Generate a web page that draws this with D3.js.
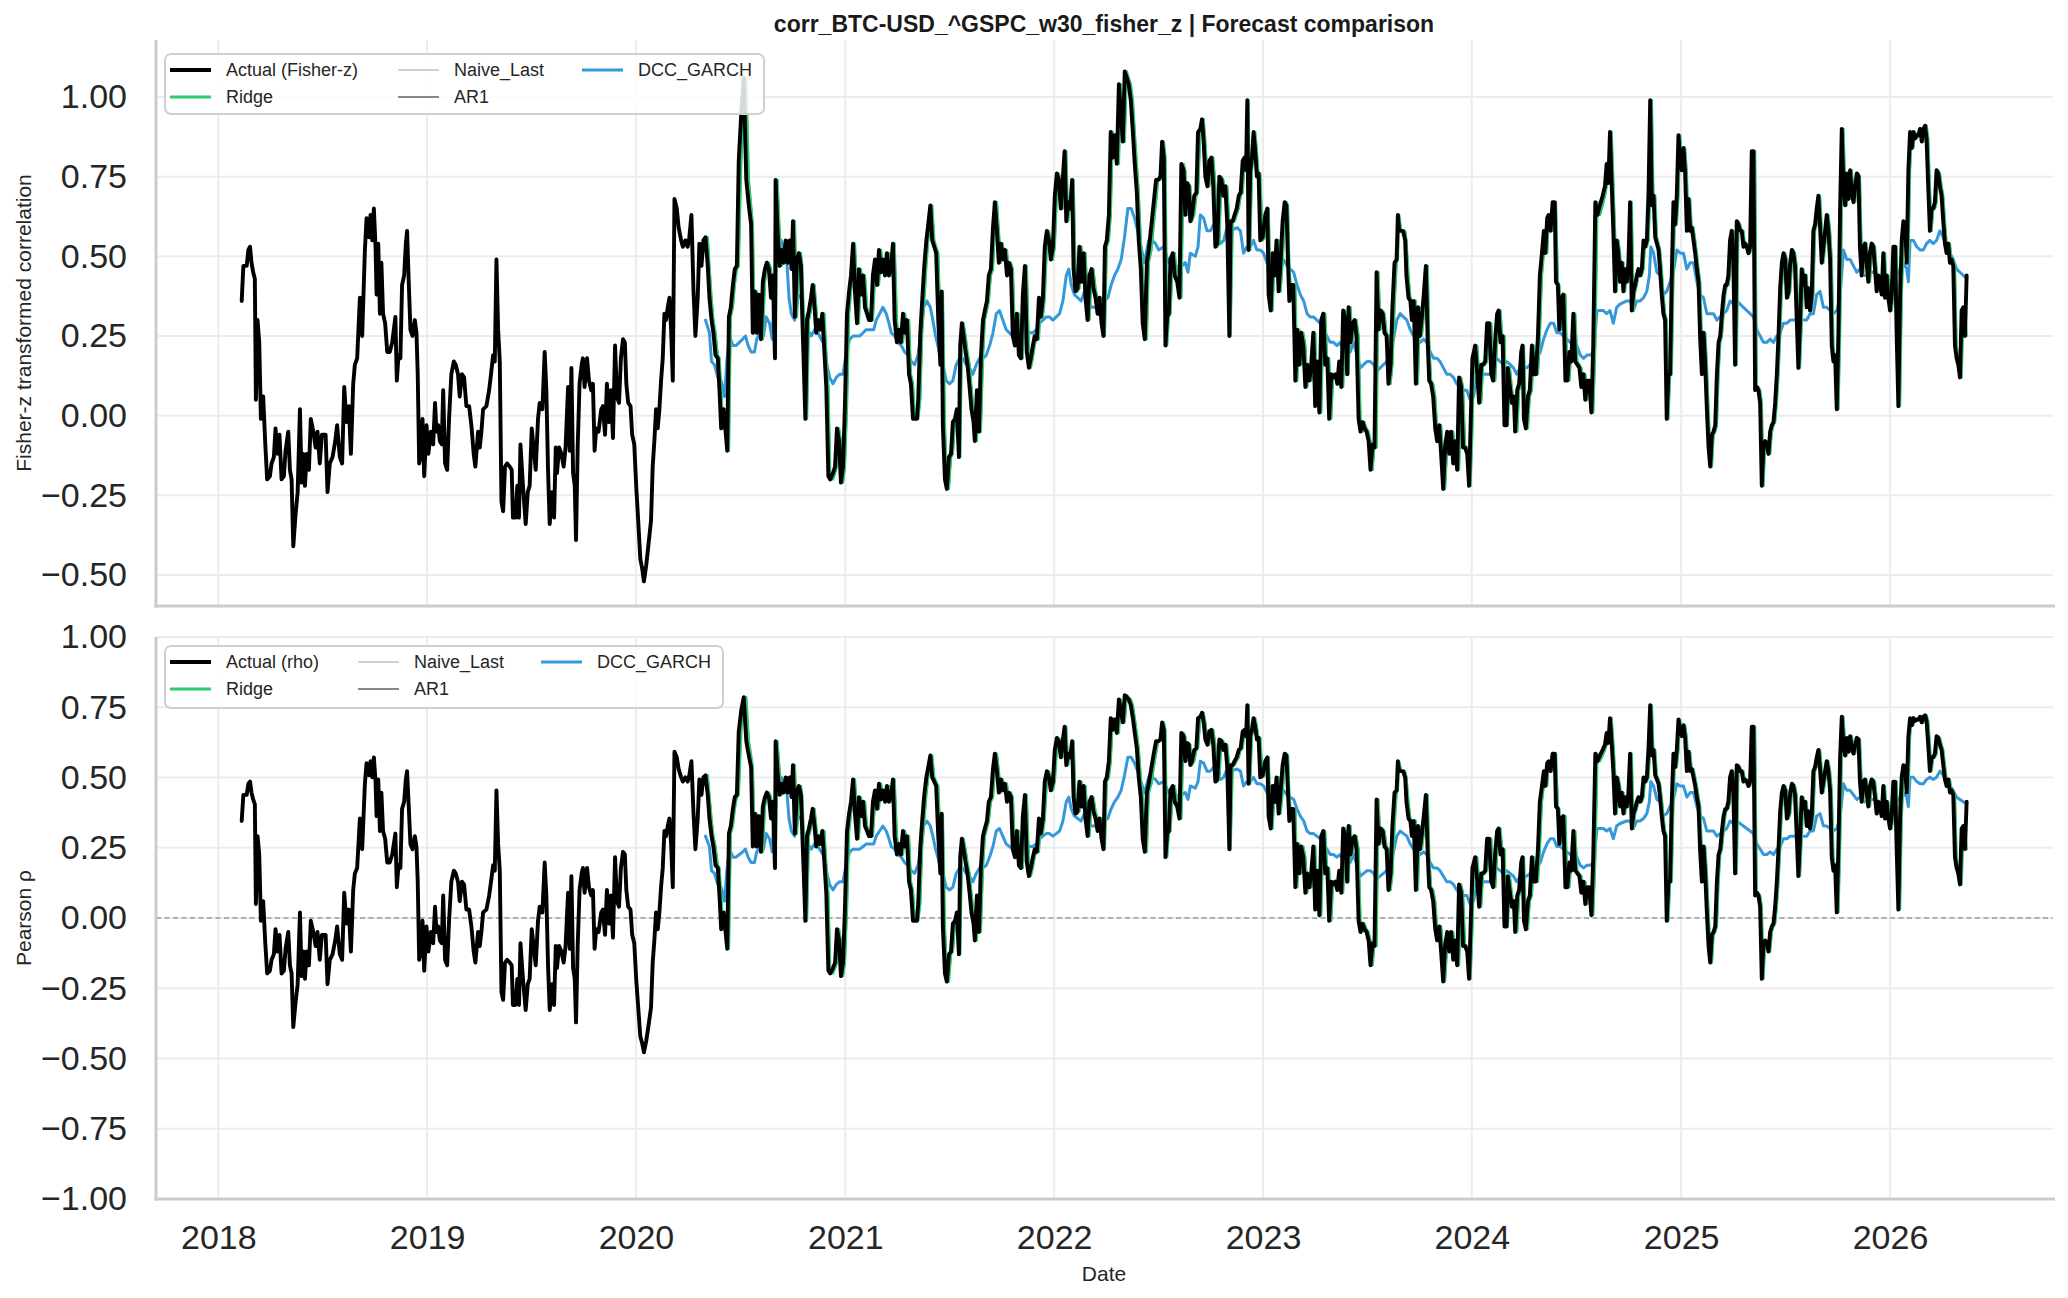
<!DOCTYPE html>
<html>
<head>
<meta charset="utf-8">
<script src="https://cdn.jsdelivr.net/npm/d3@7"></script>
<style>
  body { margin: 0; background: #fff; }
  svg { display: block; font-family: "Liberation Sans", Arial, sans-serif; }
</style>
</head>
<body>
<svg id="chart" width="2068" height="1298"></svg>
<script>
// ---- data ----
const yearTicks = [2018, 2019, 2020, 2021, 2022, 2023, 2024, 2025, 2026];
const zTicks = [-0.5, -0.25, 0, 0.25, 0.5, 0.75, 1.0];
const rhoTicks = [-1, -0.75, -0.5, -0.25, 0, 0.25, 0.5, 0.75, 1.0];
const forecastStart = 2020.33;   // first forecast date (decimal year)

// actual Fisher-z series: [decimal year, z]
const actualZ = [
[2018.112,0.36],[2018.120,0.47],[2018.136,0.47],[2018.144,0.52],[2018.152,0.53],[2018.159,0.48],[2018.167,0.45],[2018.175,0.43],[2018.180,0.05],[2018.188,0.30],[2018.196,0.23],[2018.204,-0.01],[2018.215,0.06],[2018.225,-0.09],[2018.234,-0.20],[2018.247,-0.19],[2018.255,-0.15],[2018.266,-0.13],[2018.274,-0.04],[2018.284,-0.12],[2018.293,-0.06],[2018.303,-0.20],[2018.314,-0.19],[2018.322,-0.11],[2018.335,-0.05],[2018.343,-0.17],[2018.351,-0.20],[2018.359,-0.41],[2018.370,-0.31],[2018.380,-0.24],[2018.391,0.02],[2018.399,-0.21],[2018.407,-0.12],[2018.415,-0.22],[2018.423,-0.12],[2018.434,-0.17],[2018.443,-0.01],[2018.455,-0.05],[2018.466,-0.10],[2018.475,-0.05],[2018.486,-0.15],[2018.496,-0.06],[2018.506,-0.06],[2018.514,-0.06],[2018.523,-0.24],[2018.534,-0.15],[2018.547,-0.13],[2018.560,-0.08],[2018.569,-0.03],[2018.582,-0.13],[2018.593,-0.15],[2018.603,0.09],[2018.614,-0.02],[2018.625,0.03],[2018.635,-0.12],[2018.646,0.10],[2018.654,0.16],[2018.665,0.18],[2018.678,0.37],[2018.689,0.25],[2018.702,0.52],[2018.710,0.62],[2018.721,0.56],[2018.729,0.63],[2018.737,0.55],[2018.745,0.65],[2018.753,0.53],[2018.758,0.38],[2018.766,0.54],[2018.774,0.32],[2018.781,0.48],[2018.789,0.32],[2018.799,0.29],[2018.809,0.20],[2018.821,0.20],[2018.833,0.23],[2018.848,0.31],[2018.855,0.11],[2018.863,0.19],[2018.872,0.18],[2018.880,0.41],[2018.890,0.44],[2018.898,0.54],[2018.904,0.58],[2018.912,0.42],[2018.920,0.27],[2018.930,0.25],[2018.941,0.30],[2018.949,0.26],[2018.955,0.13],[2018.962,-0.15],[2018.971,-0.12],[2018.978,-0.01],[2018.986,-0.19],[2018.997,-0.03],
[2019.006,-0.12],[2019.018,-0.05],[2019.029,-0.09],[2019.038,0.04],[2019.045,-0.05],[2019.053,-0.03],[2019.061,-0.08],[2019.070,-0.09],[2019.077,0.08],[2019.086,-0.15],[2019.096,-0.17],[2019.105,-0.01],[2019.116,0.13],[2019.128,0.17],[2019.137,0.16],[2019.148,0.13],[2019.156,0.06],[2019.167,0.13],[2019.177,0.12],[2019.188,0.03],[2019.201,0.03],[2019.212,-0.03],[2019.223,-0.12],[2019.231,-0.16],[2019.244,-0.05],[2019.252,-0.10],[2019.260,-0.05],[2019.268,0.02],[2019.284,0.03],[2019.297,0.08],[2019.306,0.13],[2019.316,0.19],[2019.324,0.17],[2019.332,0.49],[2019.340,0.27],[2019.348,0.17],[2019.356,-0.27],[2019.364,-0.30],[2019.373,-0.16],[2019.383,-0.15],[2019.396,-0.16],[2019.405,-0.17],[2019.411,-0.32],[2019.423,-0.32],[2019.432,-0.22],[2019.440,-0.32],[2019.447,-0.09],[2019.459,-0.22],[2019.472,-0.34],[2019.482,-0.24],[2019.491,-0.22],[2019.501,-0.04],[2019.510,-0.10],[2019.520,-0.17],[2019.531,-0.01],[2019.539,0.04],[2019.552,0.02],[2019.563,0.20],[2019.571,0.08],[2019.579,-0.17],[2019.587,-0.34],[2019.598,-0.24],[2019.608,-0.32],[2019.616,-0.10],[2019.622,-0.18],[2019.632,-0.10],[2019.643,-0.12],[2019.654,-0.16],[2019.663,-0.10],[2019.675,0.09],[2019.683,-0.11],[2019.691,0.15],[2019.699,-0.18],[2019.707,-0.22],[2019.713,-0.39],[2019.721,-0.10],[2019.730,0.10],[2019.740,0.16],[2019.746,0.18],[2019.754,0.09],[2019.766,0.18],[2019.775,0.11],[2019.786,0.08],[2019.794,0.10],[2019.802,-0.11],[2019.810,-0.04],[2019.821,-0.05],[2019.834,0.02],[2019.842,0.03],[2019.852,-0.06],[2019.861,0.10],[2019.871,-0.02],[2019.880,0.08],[2019.890,-0.07],[2019.900,0.22],[2019.909,0.06],[2019.919,0.04],[2019.928,0.18],[2019.938,0.24],[2019.947,0.23],[2019.954,0.10],[2019.963,0.04],[2019.974,0.03],[2019.982,-0.06],[2019.992,-0.09],
[2020.002,-0.23],[2020.010,-0.32],[2020.021,-0.45],[2020.030,-0.48],[2020.038,-0.52],[2020.049,-0.47],[2020.059,-0.41],[2020.072,-0.33],[2020.080,-0.16],[2020.088,-0.08],[2020.096,0.02],[2020.104,-0.04],[2020.112,0.02],[2020.120,0.11],[2020.128,0.18],[2020.136,0.32],[2020.144,0.30],[2020.152,0.34],[2020.160,0.37],[2020.168,0.27],[2020.176,0.11],[2020.184,0.68],[2020.195,0.65],[2020.204,0.59],[2020.216,0.55],[2020.224,0.53],[2020.236,0.55],[2020.247,0.53],[2020.255,0.56],[2020.265,0.63],[2020.275,0.39],[2020.284,0.25],[2020.295,0.37],[2020.303,0.54],[2020.313,0.47],[2020.322,0.55],[2020.332,0.56],[2020.343,0.47],[2020.351,0.37],[2020.361,0.30],[2020.370,0.26],[2020.380,0.19],[2020.391,0.18],[2020.399,0.08],[2020.407,-0.04],[2020.418,0.02],[2020.428,-0.05],[2020.436,-0.11],[2020.444,0.31],[2020.453,0.34],[2020.463,0.41],[2020.472,0.46],[2020.482,0.47],[2020.491,0.80],[2020.503,0.95],[2020.515,1.06],[2020.527,0.74],[2020.539,0.66],[2020.550,0.60],[2020.558,0.26],[2020.568,0.39],[2020.577,0.26],[2020.587,0.38],[2020.597,0.24],[2020.606,0.42],[2020.616,0.46],[2020.625,0.48],[2020.635,0.46],[2020.645,0.37],[2020.654,0.44],[2020.664,0.18],[2020.667,0.74],[2020.676,0.58],[2020.686,0.47],[2020.696,0.52],[2020.705,0.48],[2020.715,0.55],[2020.724,0.48],[2020.734,0.55],[2020.743,0.46],[2020.750,0.61],[2020.759,0.31],[2020.769,0.49],[2020.778,0.51],[2020.788,0.47],[2020.794,0.32],[2020.801,0.17],[2020.809,-0.01],[2020.817,0.30],[2020.826,0.33],[2020.836,0.37],[2020.844,0.41],[2020.853,0.34],[2020.861,0.26],[2020.871,0.30],[2020.880,0.27],[2020.890,0.32],[2020.900,0.20],[2020.909,0.09],[2020.919,-0.19],[2020.928,-0.20],[2020.941,-0.18],[2020.951,-0.16],[2020.960,-0.04],[2020.970,-0.08],[2020.979,-0.21],[2020.989,-0.16],[2020.998,0.03],
[2021.008,0.32],[2021.018,0.39],[2021.027,0.44],[2021.037,0.54],[2021.046,0.39],[2021.056,0.29],[2021.065,0.46],[2021.075,0.38],[2021.085,0.44],[2021.094,0.34],[2021.104,0.32],[2021.113,0.30],[2021.123,0.30],[2021.132,0.44],[2021.142,0.49],[2021.152,0.41],[2021.161,0.52],[2021.171,0.45],[2021.180,0.49],[2021.190,0.44],[2021.199,0.51],[2021.209,0.44],[2021.219,0.47],[2021.228,0.54],[2021.236,0.30],[2021.247,0.23],[2021.257,0.27],[2021.266,0.23],[2021.276,0.32],[2021.286,0.26],[2021.295,0.30],[2021.305,0.13],[2021.314,0.10],[2021.324,-0.01],[2021.333,-0.01],[2021.343,-0.01],[2021.349,0.05],[2021.359,0.26],[2021.368,0.36],[2021.378,0.47],[2021.388,0.55],[2021.397,0.60],[2021.407,0.66],[2021.416,0.55],[2021.426,0.53],[2021.435,0.51],[2021.445,0.30],[2021.455,0.16],[2021.461,0.39],[2021.467,-0.03],[2021.477,-0.20],[2021.486,-0.23],[2021.496,-0.13],[2021.506,-0.12],[2021.515,-0.02],[2021.525,-0.01],[2021.534,0.02],[2021.544,-0.13],[2021.550,0.22],[2021.558,0.29],[2021.566,0.25],[2021.576,0.20],[2021.585,0.16],[2021.595,0.09],[2021.604,0.02],[2021.614,-0.02],[2021.620,-0.08],[2021.630,0.08],[2021.640,-0.05],[2021.649,0.18],[2021.659,0.30],[2021.668,0.33],[2021.678,0.36],[2021.687,0.44],[2021.697,0.46],[2021.707,0.59],[2021.716,0.67],[2021.726,0.58],[2021.735,0.48],[2021.745,0.54],[2021.754,0.49],[2021.764,0.52],[2021.774,0.44],[2021.783,0.48],[2021.793,0.46],[2021.802,0.25],[2021.812,0.22],[2021.821,0.32],[2021.831,0.19],[2021.841,0.18],[2021.850,0.38],[2021.860,0.47],[2021.869,0.20],[2021.879,0.15],[2021.888,0.18],[2021.898,0.22],[2021.907,0.25],[2021.917,0.24],[2021.927,0.37],[2021.936,0.31],[2021.946,0.37],[2021.955,0.53],[2021.965,0.58],[2021.975,0.55],[2021.984,0.49],[2021.994,0.53],
[2022.003,0.69],[2022.013,0.76],[2022.022,0.74],[2022.032,0.65],[2022.042,0.75],[2022.050,0.83],[2022.058,0.61],[2022.067,0.67],[2022.077,0.65],[2022.086,0.74],[2022.093,0.46],[2022.102,0.39],[2022.112,0.40],[2022.121,0.53],[2022.131,0.42],[2022.141,0.51],[2022.150,0.37],[2022.160,0.30],[2022.169,0.44],[2022.179,0.46],[2022.188,0.40],[2022.198,0.37],[2022.208,0.32],[2022.217,0.37],[2022.227,0.29],[2022.236,0.25],[2022.243,0.53],[2022.252,0.55],[2022.262,0.63],[2022.271,0.89],[2022.281,0.81],[2022.290,0.88],[2022.300,0.79],[2022.310,1.04],[2022.319,0.95],[2022.329,0.86],[2022.338,1.08],[2022.348,1.06],[2022.357,1.04],[2022.367,0.99],[2022.377,0.89],[2022.386,0.79],[2022.396,0.70],[2022.405,0.55],[2022.415,0.46],[2022.424,0.29],[2022.434,0.24],[2022.444,0.48],[2022.453,0.52],[2022.466,0.60],[2022.477,0.67],[2022.488,0.74],[2022.498,0.74],[2022.509,0.75],[2022.517,0.86],[2022.525,0.81],[2022.533,0.22],[2022.541,0.31],[2022.549,0.32],[2022.557,0.49],[2022.568,0.51],[2022.577,0.44],[2022.589,0.42],[2022.600,0.37],[2022.609,0.79],[2022.620,0.77],[2022.628,0.63],[2022.636,0.73],[2022.644,0.72],[2022.652,0.61],[2022.660,0.63],[2022.671,0.69],[2022.681,0.70],[2022.689,0.89],[2022.700,0.90],[2022.708,0.93],[2022.716,0.86],[2022.724,0.75],[2022.734,0.72],[2022.743,0.80],[2022.753,0.81],[2022.762,0.72],[2022.772,0.53],[2022.781,0.54],[2022.791,0.75],[2022.801,0.74],[2022.810,0.69],[2022.820,0.72],[2022.829,0.60],[2022.839,0.25],[2022.845,0.61],[2022.855,0.61],[2022.864,0.63],[2022.874,0.65],[2022.884,0.69],[2022.893,0.70],[2022.903,0.80],[2022.912,0.81],[2022.919,0.77],[2022.925,0.99],[2022.931,0.52],[2022.939,0.77],[2022.947,0.81],[2022.955,0.89],[2022.963,0.83],[2022.971,0.75],[2022.979,0.76],[2022.987,0.55],[2022.998,0.56],
[2023.011,0.63],[2023.021,0.65],[2023.027,0.38],[2023.037,0.33],[2023.046,0.51],[2023.056,0.44],[2023.065,0.55],[2023.075,0.39],[2023.084,0.48],[2023.094,0.61],[2023.104,0.67],[2023.112,0.66],[2023.120,0.48],[2023.126,0.36],[2023.136,0.41],[2023.145,0.41],[2023.155,0.11],[2023.164,0.27],[2023.174,0.16],[2023.183,0.26],[2023.193,0.22],[2023.203,0.09],[2023.212,0.16],[2023.222,0.11],[2023.231,0.16],[2023.241,0.26],[2023.250,0.03],[2023.260,0.17],[2023.270,0.01],[2023.279,0.30],[2023.289,0.32],[2023.298,0.16],[2023.308,0.18],[2023.317,-0.01],[2023.327,0.13],[2023.336,0.12],[2023.346,0.13],[2023.356,0.10],[2023.365,0.17],[2023.375,0.09],[2023.384,0.33],[2023.394,0.30],[2023.403,0.13],[2023.410,0.34],[2023.419,0.23],[2023.429,0.29],[2023.439,0.30],[2023.448,0.25],[2023.458,-0.01],[2023.467,-0.05],[2023.477,-0.02],[2023.486,-0.04],[2023.496,-0.05],[2023.506,-0.08],[2023.515,-0.17],[2023.525,-0.09],[2023.534,-0.10],[2023.544,0.45],[2023.553,0.27],[2023.563,0.33],[2023.573,0.32],[2023.582,0.26],[2023.592,0.25],[2023.601,0.10],[2023.611,0.16],[2023.620,0.34],[2023.630,0.48],[2023.640,0.49],[2023.646,0.63],[2023.652,0.58],[2023.662,0.58],[2023.671,0.58],[2023.681,0.55],[2023.687,0.44],[2023.697,0.37],[2023.706,0.36],[2023.713,0.30],[2023.722,0.36],[2023.732,0.10],[2023.742,0.34],[2023.751,0.25],[2023.761,0.31],[2023.770,0.38],[2023.780,0.47],[2023.789,0.23],[2023.796,0.11],[2023.805,0.10],[2023.815,0.06],[2023.825,-0.04],[2023.834,-0.08],[2023.844,-0.03],[2023.853,-0.12],[2023.863,-0.23],[2023.872,-0.10],[2023.882,-0.05],[2023.892,-0.12],[2023.901,-0.05],[2023.911,-0.15],[2023.920,-0.08],[2023.930,-0.17],[2023.939,0.12],[2023.949,0.09],[2023.958,-0.10],[2023.968,-0.10],[2023.978,-0.12],[2023.987,-0.22],[2023.994,-0.04],
[2024.003,0.18],[2024.010,0.20],[2024.016,0.22],[2024.026,0.13],[2024.035,0.04],[2024.045,0.16],[2024.054,0.16],[2024.064,0.17],[2024.073,0.29],[2024.083,0.29],[2024.093,0.13],[2024.102,0.11],[2024.112,0.24],[2024.121,0.32],[2024.128,0.33],[2024.137,0.23],[2024.147,0.25],[2024.156,-0.03],[2024.166,-0.03],[2024.172,0.15],[2024.182,0.09],[2024.191,0.04],[2024.201,0.06],[2024.207,-0.05],[2024.217,0.08],[2024.226,0.10],[2024.236,0.20],[2024.242,0.22],[2024.249,-0.01],[2024.258,-0.04],[2024.268,0.06],[2024.277,0.08],[2024.287,0.22],[2024.297,0.13],[2024.306,0.13],[2024.316,0.25],[2024.325,0.44],[2024.335,0.51],[2024.344,0.58],[2024.351,0.51],[2024.360,0.62],[2024.367,0.63],[2024.376,0.58],[2024.386,0.67],[2024.396,0.67],[2024.402,0.42],[2024.411,0.41],[2024.418,0.27],[2024.427,0.37],[2024.437,0.38],[2024.447,0.11],[2024.456,0.11],[2024.466,0.20],[2024.475,0.17],[2024.485,0.32],[2024.494,0.17],[2024.504,0.16],[2024.514,0.15],[2024.523,0.09],[2024.533,0.13],[2024.542,0.05],[2024.552,0.11],[2024.561,0.11],[2024.571,0.01],[2024.580,0.22],[2024.590,0.67],[2024.600,0.63],[2024.612,0.66],[2024.625,0.69],[2024.636,0.72],[2024.644,0.79],[2024.652,0.73],[2024.660,0.89],[2024.668,0.73],[2024.676,0.58],[2024.684,0.39],[2024.692,0.55],[2024.700,0.51],[2024.708,0.42],[2024.716,0.48],[2024.724,0.39],[2024.732,0.46],[2024.740,0.42],[2024.748,0.48],[2024.756,0.67],[2024.764,0.33],[2024.772,0.39],[2024.780,0.41],[2024.788,0.44],[2024.796,0.46],[2024.804,0.44],[2024.812,0.46],[2024.820,0.55],[2024.828,0.53],[2024.836,0.55],[2024.844,0.70],[2024.852,0.99],[2024.860,0.66],[2024.868,0.69],[2024.876,0.56],[2024.884,0.54],[2024.892,0.52],[2024.899,0.46],[2024.907,0.38],[2024.915,0.32],[2024.923,0.30],[2024.931,-0.01],[2024.939,0.13],[2024.947,0.13],[2024.955,0.44],[2024.963,0.67],[2024.971,0.60],[2024.979,0.69],[2024.987,0.88],[2024.995,0.80],
[2025.003,0.77],[2025.011,0.84],[2025.019,0.76],[2025.027,0.58],[2025.035,0.68],[2025.043,0.58],[2025.051,0.59],[2025.059,0.55],[2025.067,0.51],[2025.075,0.46],[2025.083,0.42],[2025.091,0.24],[2025.099,0.13],[2025.107,0.26],[2025.115,0.16],[2025.123,0.02],[2025.131,-0.10],[2025.139,-0.16],[2025.147,-0.06],[2025.155,-0.05],[2025.163,-0.03],[2025.171,0.13],[2025.179,0.23],[2025.187,0.25],[2025.195,0.32],[2025.203,0.38],[2025.211,0.41],[2025.218,0.41],[2025.226,0.44],[2025.234,0.55],[2025.242,0.58],[2025.250,0.48],[2025.258,0.16],[2025.266,0.61],[2025.274,0.60],[2025.282,0.58],[2025.290,0.58],[2025.298,0.53],[2025.306,0.54],[2025.314,0.53],[2025.322,0.51],[2025.330,0.53],[2025.338,0.83],[2025.346,0.83],[2025.354,0.08],[2025.362,0.09],[2025.370,0.08],[2025.378,0.04],[2025.386,-0.22],[2025.394,-0.09],[2025.402,-0.08],[2025.410,-0.09],[2025.418,-0.12],[2025.426,-0.05],[2025.434,-0.03],[2025.442,-0.02],[2025.450,0.04],[2025.458,0.13],[2025.466,0.25],[2025.474,0.40],[2025.482,0.48],[2025.490,0.51],[2025.498,0.49],[2025.506,0.37],[2025.514,0.39],[2025.522,0.48],[2025.530,0.52],[2025.537,0.51],[2025.545,0.47],[2025.553,0.31],[2025.561,0.15],[2025.569,0.29],[2025.577,0.46],[2025.585,0.41],[2025.593,0.44],[2025.601,0.34],[2025.609,0.40],[2025.617,0.33],[2025.625,0.38],[2025.633,0.58],[2025.641,0.60],[2025.649,0.65],[2025.657,0.69],[2025.665,0.59],[2025.673,0.48],[2025.681,0.53],[2025.689,0.58],[2025.697,0.63],[2025.705,0.58],[2025.713,0.49],[2025.721,0.22],[2025.729,0.17],[2025.737,0.19],[2025.745,0.02],[2025.753,0.26],[2025.761,0.65],[2025.769,0.90],[2025.777,0.72],[2025.785,0.66],[2025.793,0.76],[2025.801,0.68],[2025.809,0.77],[2025.817,0.70],[2025.825,0.67],[2025.833,0.72],[2025.841,0.76],[2025.849,0.75],[2025.856,0.53],[2025.864,0.44],[2025.872,0.53],[2025.880,0.54],[2025.888,0.48],[2025.896,0.42],[2025.904,0.51],[2025.912,0.54],[2025.920,0.53],[2025.928,0.46],[2025.936,0.39],[2025.944,0.44],[2025.952,0.42],[2025.960,0.38],[2025.968,0.51],[2025.976,0.37],[2025.984,0.44],[2025.992,0.37],
[2026.000,0.33],[2026.008,0.38],[2026.016,0.53],[2026.024,0.53],[2026.032,0.25],[2026.040,0.03],[2026.048,0.37],[2026.056,0.55],[2026.064,0.61],[2026.072,0.60],[2026.080,0.48],[2026.088,0.77],[2026.096,0.89],[2026.104,0.84],[2026.112,0.89],[2026.120,0.87],[2026.128,0.88],[2026.136,0.88],[2026.144,0.90],[2026.152,0.86],[2026.160,0.90],[2026.168,0.91],[2026.175,0.87],[2026.183,0.72],[2026.191,0.58],[2026.199,0.65],[2026.207,0.65],[2026.215,0.67],[2026.223,0.77],[2026.231,0.76],[2026.239,0.72],[2026.247,0.69],[2026.255,0.61],[2026.263,0.54],[2026.271,0.51],[2026.279,0.54],[2026.287,0.48],[2026.295,0.49],[2026.303,0.47],[2026.311,0.22],[2026.319,0.18],[2026.327,0.16],[2026.335,0.12],[2026.343,0.33],[2026.351,0.34],[2026.359,0.25],[2026.367,0.44]
];

// DCC_GARCH forecast (Fisher-z)
const dccZ = [
[2020.332,0.30],[2020.351,0.26],[2020.361,0.17],[2020.375,0.16],[2020.391,0.12],[2020.407,0.11],[2020.423,0.06],[2020.434,0.17],[2020.447,0.25],[2020.463,0.22],[2020.478,0.22],[2020.494,0.23],[2020.510,0.24],[2020.523,0.25],[2020.536,0.22],[2020.550,0.20],[2020.566,0.20],[2020.577,0.24],[2020.593,0.26],[2020.609,0.25],[2020.622,0.31],[2020.638,0.29],[2020.651,0.24],[2020.657,0.34],[2020.667,0.44],[2020.678,0.53],[2020.694,0.55],[2020.710,0.51],[2020.721,0.48],[2020.731,0.37],[2020.742,0.32],[2020.758,0.30],[2020.774,0.37],[2020.790,0.38],[2020.805,0.30],[2020.821,0.27],[2020.837,0.25],[2020.853,0.27],[2020.869,0.26],[2020.885,0.24],[2020.901,0.22],[2020.912,0.16],[2020.925,0.12],[2020.941,0.10],[2020.957,0.12],[2020.973,0.13],[2020.989,0.13],
[2021.005,0.20],[2021.021,0.24],[2021.037,0.25],[2021.053,0.25],[2021.069,0.25],[2021.085,0.26],[2021.100,0.27],[2021.116,0.27],[2021.136,0.27],[2021.148,0.30],[2021.164,0.32],[2021.180,0.34],[2021.196,0.32],[2021.209,0.29],[2021.220,0.26],[2021.236,0.25],[2021.252,0.23],[2021.268,0.22],[2021.284,0.20],[2021.300,0.19],[2021.316,0.17],[2021.332,0.16],[2021.348,0.19],[2021.364,0.27],[2021.375,0.34],[2021.391,0.36],[2021.407,0.34],[2021.419,0.30],[2021.432,0.25],[2021.443,0.22],[2021.455,0.18],[2021.467,0.16],[2021.483,0.11],[2021.499,0.10],[2021.515,0.11],[2021.531,0.16],[2021.547,0.18],[2021.563,0.18],[2021.579,0.16],[2021.595,0.15],[2021.611,0.13],[2021.627,0.16],[2021.643,0.18],[2021.659,0.18],[2021.675,0.19],[2021.691,0.22],[2021.707,0.26],[2021.723,0.32],[2021.738,0.33],[2021.754,0.30],[2021.770,0.27],[2021.786,0.26],[2021.802,0.25],[2021.818,0.26],[2021.834,0.29],[2021.850,0.29],[2021.866,0.27],[2021.882,0.26],[2021.898,0.26],[2021.914,0.27],[2021.930,0.29],[2021.946,0.30],[2021.962,0.31],[2021.978,0.31],[2021.994,0.30],
[2022.010,0.31],[2022.026,0.32],[2022.042,0.36],[2022.058,0.44],[2022.070,0.46],[2022.082,0.41],[2022.097,0.38],[2022.113,0.37],[2022.129,0.36],[2022.145,0.39],[2022.161,0.37],[2022.177,0.34],[2022.193,0.34],[2022.209,0.34],[2022.225,0.34],[2022.241,0.36],[2022.257,0.37],[2022.273,0.41],[2022.289,0.44],[2022.305,0.46],[2022.321,0.49],[2022.337,0.56],[2022.353,0.65],[2022.369,0.65],[2022.385,0.62],[2022.400,0.58],[2022.416,0.53],[2022.432,0.48],[2022.453,0.55],[2022.469,0.55],[2022.485,0.54],[2022.501,0.52],[2022.525,0.53],[2022.549,0.48],[2022.565,0.47],[2022.581,0.46],[2022.596,0.47],[2022.612,0.47],[2022.628,0.48],[2022.641,0.45],[2022.652,0.51],[2022.676,0.50],[2022.689,0.53],[2022.700,0.63],[2022.716,0.62],[2022.732,0.58],[2022.748,0.58],[2022.764,0.60],[2022.780,0.56],[2022.796,0.54],[2022.812,0.55],[2022.828,0.59],[2022.844,0.58],[2022.876,0.59],[2022.892,0.58],[2022.907,0.51],[2022.923,0.53],[2022.939,0.53],[2022.955,0.55],[2022.971,0.52],[2022.987,0.52],
[2023.003,0.51],[2023.019,0.48],[2023.035,0.49],[2023.051,0.51],[2023.067,0.49],[2023.083,0.48],[2023.099,0.49],[2023.115,0.47],[2023.131,0.46],[2023.147,0.45],[2023.163,0.41],[2023.179,0.38],[2023.195,0.36],[2023.211,0.32],[2023.226,0.31],[2023.242,0.31],[2023.258,0.30],[2023.274,0.29],[2023.290,0.27],[2023.306,0.25],[2023.322,0.23],[2023.338,0.23],[2023.354,0.22],[2023.370,0.23],[2023.386,0.20],[2023.402,0.23],[2023.418,0.20],[2023.434,0.23],[2023.450,0.19],[2023.466,0.15],[2023.482,0.16],[2023.498,0.17],[2023.514,0.17],[2023.530,0.16],[2023.545,0.14],[2023.561,0.15],[2023.577,0.16],[2023.593,0.17],[2023.609,0.20],[2023.625,0.24],[2023.641,0.30],[2023.657,0.32],[2023.673,0.31],[2023.689,0.30],[2023.705,0.27],[2023.721,0.25],[2023.737,0.24],[2023.753,0.23],[2023.769,0.24],[2023.785,0.23],[2023.801,0.20],[2023.817,0.18],[2023.833,0.18],[2023.848,0.17],[2023.864,0.15],[2023.880,0.13],[2023.896,0.13],[2023.912,0.12],[2023.928,0.10],[2023.944,0.09],[2023.960,0.08],[2023.976,0.08],[2023.992,0.05],
[2024.008,0.06],[2024.024,0.12],[2024.040,0.15],[2024.056,0.13],[2024.088,0.13],[2024.104,0.16],[2024.119,0.18],[2024.135,0.17],[2024.151,0.16],[2024.167,0.17],[2024.183,0.16],[2024.199,0.15],[2024.215,0.13],[2024.231,0.15],[2024.263,0.15],[2024.279,0.16],[2024.295,0.17],[2024.311,0.18],[2024.327,0.20],[2024.343,0.24],[2024.359,0.27],[2024.375,0.29],[2024.391,0.29],[2024.406,0.26],[2024.422,0.26],[2024.438,0.25],[2024.454,0.24],[2024.470,0.23],[2024.486,0.22],[2024.502,0.22],[2024.518,0.19],[2024.534,0.18],[2024.550,0.19],[2024.566,0.19],[2024.582,0.20],[2024.598,0.33],[2024.612,0.33],[2024.628,0.33],[2024.644,0.32],[2024.660,0.33],[2024.676,0.29],[2024.692,0.34],[2024.708,0.35],[2024.740,0.36],[2024.756,0.36],[2024.772,0.33],[2024.788,0.36],[2024.804,0.36],[2024.820,0.37],[2024.836,0.39],[2024.848,0.44],[2024.855,0.53],[2024.868,0.51],[2024.884,0.45],[2024.899,0.44],[2024.915,0.38],[2024.931,0.39],[2024.947,0.42],[2024.963,0.45],[2024.979,0.52],[2024.995,0.51],
[2025.011,0.51],[2025.027,0.46],[2025.043,0.48],[2025.059,0.48],[2025.075,0.42],[2025.091,0.38],[2025.107,0.37],[2025.123,0.32],[2025.155,0.32],[2025.171,0.30],[2025.187,0.31],[2025.203,0.32],[2025.218,0.33],[2025.234,0.36],[2025.250,0.35],[2025.266,0.36],[2025.282,0.35],[2025.298,0.34],[2025.314,0.33],[2025.330,0.32],[2025.346,0.31],[2025.362,0.27],[2025.378,0.25],[2025.394,0.23],[2025.410,0.23],[2025.426,0.24],[2025.442,0.23],[2025.458,0.25],[2025.474,0.26],[2025.490,0.29],[2025.506,0.29],[2025.522,0.30],[2025.601,0.30],[2025.617,0.32],[2025.633,0.32],[2025.649,0.38],[2025.665,0.39],[2025.681,0.34],[2025.697,0.34],[2025.713,0.33],[2025.729,0.32],[2025.745,0.33],[2025.761,0.37],[2025.777,0.52],[2025.793,0.49],[2025.809,0.49],[2025.825,0.47],[2025.841,0.45],[2025.856,0.46],[2025.872,0.44],[2025.888,0.44],[2025.904,0.45],[2025.920,0.45],[2025.936,0.44],[2025.952,0.42],[2025.984,0.42],
[2026.000,0.41],[2026.016,0.44],[2026.032,0.44],[2026.048,0.46],[2026.064,0.48],[2026.080,0.46],[2026.088,0.42],[2026.096,0.55],[2026.112,0.55],[2026.128,0.53],[2026.144,0.52],[2026.160,0.52],[2026.175,0.54],[2026.191,0.55],[2026.207,0.54],[2026.223,0.55],[2026.239,0.58],[2026.255,0.56],[2026.271,0.53],[2026.287,0.51],[2026.303,0.49],[2026.319,0.46],[2026.335,0.45],[2026.351,0.44],[2026.367,0.43]
];

const seriesTop = ["Actual (Fisher-z)", "Ridge", "Naive_Last", "AR1", "DCC_GARCH"];
const seriesBottom = ["Actual (rho)", "Ridge", "Naive_Last", "AR1", "DCC_GARCH"];

// ---- helpers ----
function yd(y) {
  const Y = Math.floor(y);
  const a = Date.UTC(Y, 0, 1), b = Date.UTC(Y + 1, 0, 1);
  return new Date(a + (y - Y) * (b - a));
}
// one-step-behind forecasts (Naive_Last style) from the actual series
const fcIdx = actualZ.findIndex(d => d[0] >= forecastStart);
const lagged = actualZ.slice(fcIdx).map((d, i) => [d[0], actualZ[fcIdx + i - 1][1]]);

const styles = {
  "Actual": { color: "#000000", w: 3.9, lw: 4 },
  "Ridge": { color: "#2ecc71", w: 2.4, lw: 3 },
  "Naive_Last": { color: "#bdc3c7", w: 1.5, lw: 1.7 },
  "AR1": { color: "#7f8c8d", w: 1.8, lw: 2.2 },
  "DCC_GARCH": { color: "#3498db", w: 3.0, lw: 3.2 }
};

const svg = d3.select("#chart");
const L = 156, R = 2053;
const x = d3.scaleUtc().domain([yd(2018), yd(2026)]).range([218.3, 1890]);

svg.append("text")
  .attr("x", 1104).attr("y", 24)
  .attr("text-anchor", "middle").attr("dominant-baseline", "central")
  .attr("font-size", 23).attr("font-weight", "bold").attr("fill", "#1a1a1a")
  .text("corr_BTC-USD_^GSPC_w30_fisher_z | Forecast comparison");

function panel(cfg) {
  const g = svg.append("g");
  const y = d3.scaleLinear().domain(cfg.dom).range(cfg.rng);
  const clipId = "clip" + cfg.id;
  svg.append("clipPath").attr("id", clipId)
    .append("rect").attr("x", L).attr("y", cfg.top).attr("width", R - L).attr("height", cfg.bottom - cfg.top);

  // grid
  g.selectAll(".hg").data(cfg.ticks).enter().append("line")
    .attr("x1", L).attr("x2", R).attr("y1", d => y(d)).attr("y2", d => y(d))
    .attr("stroke", "#ececec").attr("stroke-width", 2);
  g.selectAll(".vg").data(yearTicks).enter().append("line")
    .attr("x1", d => x(yd(d))).attr("x2", d => x(yd(d)))
    .attr("y1", cfg.top).attr("y2", cfg.bottom)
    .attr("stroke", "#ececec").attr("stroke-width", 2);

  if (cfg.zeroLine) {
    g.append("line").attr("x1", L).attr("x2", R).attr("y1", y(0)).attr("y2", y(0))
      .attr("stroke", "#9a9a9a").attr("stroke-width", 1.4).attr("stroke-dasharray", "5,3.5");
  }

  const tf = cfg.tf;
  const line = d3.line().x(d => x(yd(d[0]))).y(d => y(tf(d[1])));
  const lines = g.append("g").attr("clip-path", `url(#${clipId})`);
  const draw = (data, st) => lines.append("path").datum(data)
    .attr("d", line).attr("fill", "none")
    .attr("stroke", st.color).attr("stroke-width", st.w)
    .attr("stroke-linejoin", "round").attr("stroke-linecap", "round");
  draw(dccZ, styles.DCC_GARCH);
  draw(lagged, styles.Naive_Last);
  draw(lagged, styles.AR1);
  draw(lagged, styles.Ridge);
  draw(actualZ, styles.Actual);

  // y axis
  const ya = g.append("g").attr("transform", `translate(${L},0)`)
    .call(d3.axisLeft(y).tickValues(cfg.ticks).tickFormat(d3.format(".2f")).tickSize(0).tickPadding(29));
  ya.select(".domain").remove();
  ya.selectAll("text").attr("font-size", 34).attr("fill", "#262626")
    .attr("font-family", "Liberation Sans, Arial, sans-serif");

  // spines
  g.append("line").attr("x1", L).attr("x2", L).attr("y1", cfg.top).attr("y2", cfg.bottom + 1.5)
    .attr("stroke", "#cccccc").attr("stroke-width", 3);
  g.append("line").attr("x1", L - 1.5).attr("x2", R + 2).attr("y1", cfg.bottom).attr("y2", cfg.bottom)
    .attr("stroke", "#cccccc").attr("stroke-width", 3);

  // y label
  g.append("text")
    .attr("transform", `translate(23,${cfg.labelY}) rotate(-90)`)
    .attr("text-anchor", "middle").attr("dominant-baseline", "central")
    .attr("font-size", 21).attr("fill", "#262626").text(cfg.ylabel);

  // legend
  const lg = g.append("g");
  lg.append("rect").attr("x", 165).attr("y", cfg.leg.top)
    .attr("width", cfg.leg.w).attr("height", cfg.leg.h).attr("rx", 6)
    .attr("fill", "#fff").attr("fill-opacity", 0.85)
    .attr("stroke", "#d0d0d0").attr("stroke-width", 2);
  const keys = ["Actual", "Ridge", "Naive_Last", "AR1", "DCC_GARCH"];
  keys.forEach((k, i) => {
    const col = Math.floor(i / 2), row = i % 2;
    const hx = cfg.leg.cols[col];
    const yy = cfg.leg.rows[row];
    lg.append("line").attr("x1", hx).attr("x2", hx + 41).attr("y1", yy).attr("y2", yy)
      .attr("stroke", styles[k].color).attr("stroke-width", styles[k].lw);
    lg.append("text").attr("x", hx + 56).attr("y", yy)
      .attr("dominant-baseline", "central").attr("font-size", 18).attr("fill", "#262626")
      .text(cfg.names[i]);
  });
  return { g, y };
}

panel({
  id: "top", dom: [-0.5, 1.0], rng: [575, 97], top: 40, bottom: 606,
  ticks: zTicks, tf: v => v, ylabel: "Fisher-z transformed correlation", labelY: 323,
  names: seriesTop,
  leg: { top: 54, w: 599, h: 60, rows: [70, 97], cols: [170, 398, 582] }
});

panel({
  id: "bot", dom: [-1, 1], rng: [1199, 637], top: 637, bottom: 1199,
  ticks: rhoTicks, tf: v => Math.tanh(v),  // inverse Fisher transform -> Pearson rho
  ylabel: "Pearson ρ", labelY: 918, zeroLine: true,
  names: seriesBottom,
  leg: { top: 646, w: 558, h: 62, rows: [662, 689], cols: [170, 358, 541] }
});

// x axis (bottom panel only)
const xa = svg.append("g").attr("transform", "translate(0,1199)")
  .call(d3.axisBottom(x).tickValues(yearTicks.map(yd)).tickFormat(d3.utcFormat("%Y")).tickSize(0).tickPadding(26));
xa.select(".domain").remove();
xa.selectAll("text").attr("font-size", 34).attr("fill", "#262626")
  .attr("font-family", "Liberation Sans, Arial, sans-serif");

svg.append("text").attr("x", 1104).attr("y", 1273)
  .attr("text-anchor", "middle").attr("dominant-baseline", "central")
  .attr("font-size", 21).attr("fill", "#262626").text("Date");
</script>
</body>
</html>
